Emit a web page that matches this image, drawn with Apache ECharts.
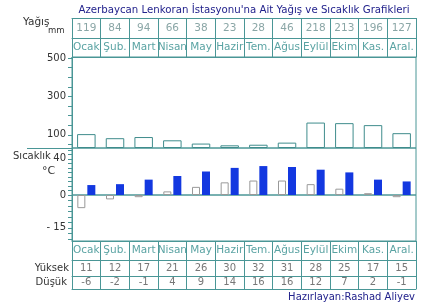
<!DOCTYPE html>
<html><head><meta charset="utf-8">
<script src="https://cdn.jsdelivr.net/npm/echarts@6/dist/echarts.min.js"></script>
<style>html,body{margin:0;padding:0;background:#fff}#c{width:423px;height:306px}</style>
</head><body><div id="c"></div>
<script>
const months = ['Ocak','Şub.','Mart','Nisan','May','Hazir','Tem.','Ağus','Eylül','Ekim','Kas.','Aral.'];
const precip = [119,84,94,66,38,23,28,46,218,213,196,127];
const highT = [11,12,17,21,26,30,32,31,28,25,17,15];
const lowT = [-6,-2,-1,4,9,14,16,16,12,7,2,-1];
const precipLabels = [100,300,500];
const precipTicks = [50,100,150,200,250,300,350,400,450,500];
const tempUpLabels = [40];
const tempUpTicks = [5,10,15,20,25,30,35,40,45,50];
const tempDownLabels = [0,-15];
const tempDownTicks = [0,-2.5,-5,-7.5,-10,-12.5,-15,-17.5,-20];

const FONT = 'DejaVu Sans';
const TEAL = '#4a9696';
const L = 72, R = 7;
const chart = echarts.init(document.getElementById('c'), null, {renderer:'canvas'});

function tableAxis(grid, pos, offset, data, labelOpt, tick){
  return {
    type:'category', gridIndex:grid, position:pos, offset:offset, data:data,
    axisLine:{show:true, onZero:false, lineStyle:{color:TEAL, width:1}},
    axisTick: tick ? {show:true, length:tick, inside:false, lineStyle:{color:TEAL}} : {show:false},
    axisLabel: labelOpt ? Object.assign({show:true, interval:0, fontFamily:FONT, verticalAlign:'middle'}, labelOpt) : {show:false},
    splitLine:{show:false}
  };
}

const option = {
  animation:false,
  backgroundColor:'#fff',
  grid:[
    {left:L, right:R, top:57, height:91, show:true, borderColor:TEAL, borderWidth:1, backgroundColor:'transparent'},
    {left:L, right:R, top:148, height:47, show:true, borderColor:TEAL, borderWidth:1, backgroundColor:'transparent'},
    {left:L, right:R, top:195, height:46, show:true, borderColor:TEAL, borderWidth:1, backgroundColor:'transparent'}
  ],
  xAxis:[
    tableAxis(0,'top',0,months,{color:'#5aa3a3', fontSize:10.5, margin:9.5},39),
    tableAxis(0,'top',19,precip.map(String),{color:'#8aa6a6', fontSize:10.5, margin:10},0),
    tableAxis(0,'top',39,months,null,0),
    {type:'category', gridIndex:1, data:months, show:false, axisLine:{onZero:false}},
    tableAxis(2,'bottom',0,months,{color:'#5aa3a3', fontSize:10.5, margin:9.5},48),
    tableAxis(2,'bottom',19,highT.map(String),{color:'#777', fontSize:10, margin:8},0),
    tableAxis(2,'bottom',35,lowT.map(String),{color:'#777', fontSize:10, margin:6.5},0),
    tableAxis(2,'bottom',48,months,null,0)
  ],
  yAxis:[
    {type:'value', gridIndex:0, min:0, max:780, show:false},
    {type:'value', gridIndex:0, min:31, max:505, position:'left',
      axisLine:{show:true, onZero:false, lineStyle:{color:TEAL}},
      axisTick:{show:true, length:4, customValues:precipTicks, lineStyle:{color:TEAL}},
      axisLabel:{show:true, customValues:precipLabels, color:'#333', fontSize:10, fontFamily:FONT, margin:6},
      splitLine:{show:false}},
    {type:'value', gridIndex:1, min:0, max:52, position:'left',
      axisLine:{show:true, onZero:false, lineStyle:{color:TEAL}},
      axisTick:{show:true, length:4, customValues:tempUpTicks, lineStyle:{color:TEAL}},
      axisLabel:{show:true, customValues:tempUpLabels, color:'#333', fontSize:10, fontFamily:FONT, margin:6},
      splitLine:{show:false}},
    {type:'value', gridIndex:2, min:-21, max:0, position:'left',
      axisLine:{show:true, onZero:false, lineStyle:{color:TEAL}},
      axisTick:{show:true, length:4, customValues:tempDownTicks, lineStyle:{color:TEAL}},
      axisLabel:{show:true, customValues:tempDownLabels, color:'#333', fontSize:10, fontFamily:FONT, margin:6,
        formatter:v => v < 0 ? '- ' + Math.abs(v) : String(v)},
      splitLine:{show:false}}
  ],
  series:[
    {type:'bar', xAxisIndex:0, yAxisIndex:0, data:precip, barWidth:18.5,
      itemStyle:{color:'#fff', borderColor:'#3f8c8c', borderWidth:1}},
    {type:'bar', xAxisIndex:3, yAxisIndex:2, data:lowT.map(v => v > 0 ? v : '-'), barWidth:8, barGap:'25%',
      itemStyle:{color:'#fff', borderColor:'#999', borderWidth:1}},
    {type:'bar', xAxisIndex:3, yAxisIndex:2, data:highT.map(v => v > 0 ? v : '-'), barWidth:8, barGap:'25%',
      itemStyle:{color:'#1338e0'}},
    {type:'bar', xAxisIndex:4, yAxisIndex:3, data:lowT.map(v => v < 0 ? v : '-'), barWidth:8, barGap:'25%',
      itemStyle:{color:'#fff', borderColor:'#999', borderWidth:1}},
    {type:'bar', xAxisIndex:4, yAxisIndex:3, data:highT.map(v => v < 0 ? v : '-'), barWidth:8, barGap:'25%',
      itemStyle:{color:'#1338e0'}}
  ],
  graphic:[
    {type:'text', style:{text:"Azerbaycan Lenkoran İstasyonu'na Ait Yağış ve Sıcaklık Grafikleri", x:244, y:10,
      font:'10.2px "DejaVu Sans"', fill:'#22228c', textAlign:'center', textVerticalAlign:'middle', align:'center', verticalAlign:'middle'}},
    {type:'text', style:{text:'Yağış', x:23, y:22, font:'10.5px "DejaVu Sans"', fill:'#333', textAlign:'left', textVerticalAlign:'middle', align:'left', verticalAlign:'middle'}},
    {type:'text', style:{text:'mm', x:48, y:30.5, font:'8.5px "DejaVu Sans"', fill:'#333', textAlign:'left', textVerticalAlign:'middle', align:'left', verticalAlign:'middle'}},
    {type:'text', style:{text:'Sıcaklık', x:13, y:156, font:'10px "DejaVu Sans"', fill:'#333', textAlign:'left', textVerticalAlign:'middle', align:'left', verticalAlign:'middle'}},
    {type:'text', style:{text:'°C', x:42, y:171, font:'11px "DejaVu Sans"', fill:'#333', textAlign:'left', textVerticalAlign:'middle', align:'left', verticalAlign:'middle'}},
    {type:'text', style:{text:'Yüksek', x:69, y:268.5, font:'10px "DejaVu Sans"', fill:'#333', textAlign:'right', textVerticalAlign:'middle', align:'right', verticalAlign:'middle'}},
    {type:'text', style:{text:'Düşük', x:67, y:282.5, font:'10px "DejaVu Sans"', fill:'#333', textAlign:'right', textVerticalAlign:'middle', align:'right', verticalAlign:'middle'}},
    {type:'text', style:{text:'Hazırlayan:Rashad Aliyev', x:415, y:297, font:'10px "DejaVu Sans"', fill:'#22228c', textAlign:'right', textVerticalAlign:'middle', align:'right', verticalAlign:'middle'}},
    {type:'line', shape:{x1:27, y1:148.5, x2:72, y2:148.5}, style:{stroke:TEAL, lineWidth:1}}
  ]
};
chart.setOption(option);
</script>
</body></html>
